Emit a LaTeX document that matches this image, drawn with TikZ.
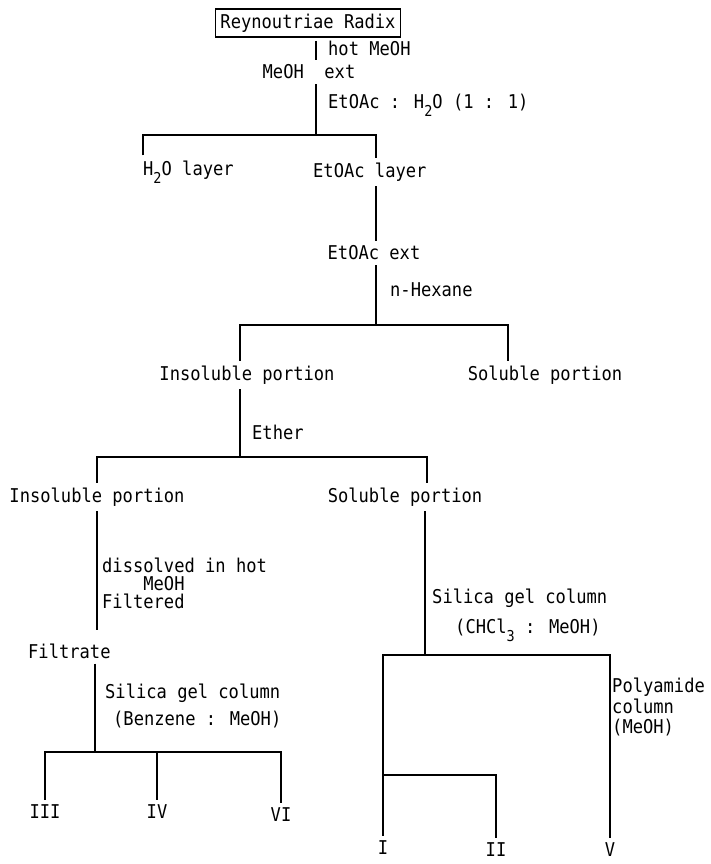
\documentclass[tikz,border=0pt]{standalone}
\usepackage{fontspec}
\newfontfamily\tw[FakeStretch=0.9]{DejaVu Sans Mono}
\usetikzlibrary{positioning}
\newcommand{\lowsub}[1]{\raisebox{-0.8ex}{\fontsize{15}{15}\selectfont #1}}
\tikzset{
  lbl/.style={font=\tw\fontsize{19}{18}\selectfont, inner xsep=0pt, inner ysep=5pt},
  multi/.style={lbl, align=left},
  startbox/.style={lbl, draw, line width=1.4pt, inner xsep=5pt, inner ysep=5pt},
  conn/.style={line width=1.3pt}
}
\begin{document}
\begin{tikzpicture}[x=1pt,y=-1pt]
  \useasboundingbox (0,0) rectangle (710,864);

  %top part
  \node[startbox] (root) at (308,23) {Reynoutriae Radix};
  \node[lbl, anchor=west] (hotmeoh) at (328,48) {hot MeOH};
  \node[lbl] (meoh) at (309,72) {MeOH\ \ ext};
  \node[lbl, anchor=west] (partition) at (328,105) {EtOAc : H\lowsub{2}O (1 : 1)};

  \coordinate (j1) at (316,135);
  \draw[conn] ([yshift=-3pt]j1 |- root.south) -- (j1 |- meoh.north);
  \draw[conn] (j1 |- meoh.south) -- (j1);

  \node[lbl, anchor=west] (water) at (143,172) {H\lowsub{2}O layer};
  \node[lbl, anchor=west] (etlayer) at (313,172) {EtOAc layer};
  \coordinate (b1l) at (143,135);
  \coordinate (b1r) at (376,135);
  \draw[conn] (b1l |- water.north) -- (b1l) -- (b1r) -- (b1r |- etlayer.north);

  \node[lbl] (etext) at (374,253) {EtOAc ext};
  \node[lbl, anchor=west] (hexane) at (390,290) {n-Hexane};
  \coordinate (j2) at (376,325);
  \draw[conn] (j2 |- etlayer.south) -- (j2 |- etext.north);
  \draw[conn] (j2 |- etext.south) -- (j2);

  %hexane split
  \node[lbl] (insolA) at (247,375) {Insoluble portion};
  \node[lbl] (solA) at (545,375) {Soluble portion};
  \coordinate (b2l) at (240,325);
  \coordinate (b2r) at (508,325);
  \draw[conn] (b2l |- insolA.north) -- (b2l) -- (b2r) -- (b2r |- solA.north);

  \node[lbl, anchor=west] (ether) at (252,432) {Ether};
  \coordinate (j3) at (240,457);
  \draw[conn] (j3 |- insolA.south) -- (j3);

  %ether split
  \node[lbl] (insolB) at (97,497) {Insoluble portion};
  \node[lbl] (solB) at (405,497) {Soluble portion};
  \coordinate (b3l) at (97,457);
  \coordinate (b3r) at (427,457);
  \draw[conn] (b3l |- insolB.north) -- (b3l) -- (b3r) -- (b3r |- solB.north);

  %left branch
  \node[multi, anchor=north west] (dissolve) at (102,553)
    {dissolved in hot\\\phantom{diss}MeOH\\Filtered};
  \node[lbl, anchor=west] (filtrate) at (28,651) {Filtrate};
  \coordinate (f1) at (97,630);
  \draw[conn] (f1 |- insolB.south) -- (f1);

  \node[lbl, anchor=west] (silicaA) at (105,693) {Silica gel column};
  \node[lbl, anchor=west] (eluentA) at (113,720) {(Benzene : MeOH)};
  \coordinate (j4) at (95,752);
  \draw[conn] (j4 |- filtrate.south) -- (j4);

  \node[lbl] (fIII) at (45,812) {III};
  \node[lbl] (fIV) at (157,812) {IV};
  \node[lbl] (fVI) at (281,815) {VI};
  \coordinate (b4l) at (45,752);
  \coordinate (b4r) at (281,752);
  \draw[conn] (b4l |- fIII.north) -- (b4l) -- (b4r) -- (b4r |- fVI.north);
  \draw[conn] (fIV.north |- b4l) -- (fIV.north);

  %right branch
  \node[lbl, anchor=west] (silicaB) at (432,598) {Silica gel column};
  \node[lbl, anchor=west] (eluentB) at (455,630) {(CHCl\lowsub{3} : MeOH)};
  \coordinate (j5) at (425,655);
  \draw[conn] (j5 |- solB.south) -- (j5);

  \node[multi, anchor=west] (polyamide) at (612,707) {Polyamide\\[2pt]column\\[2pt](MeOH)};
  \node[lbl] (fI) at (383,848) {I};
  \node[lbl] (fII) at (496,850) {II};
  \node[lbl] (fV) at (610,850) {V};
  \coordinate (b5l) at (383,655);
  \coordinate (b5r) at (610,655);
  \coordinate (b6) at (383,775);
  \draw[conn] (b5l |- fI.north) -- (b5l) -- (b5r) -- (b5r |- fV.north);
  \draw[conn] (b6) -- (b6 -| fII.north) -- (fII.north);
\end{tikzpicture}
\end{document}
